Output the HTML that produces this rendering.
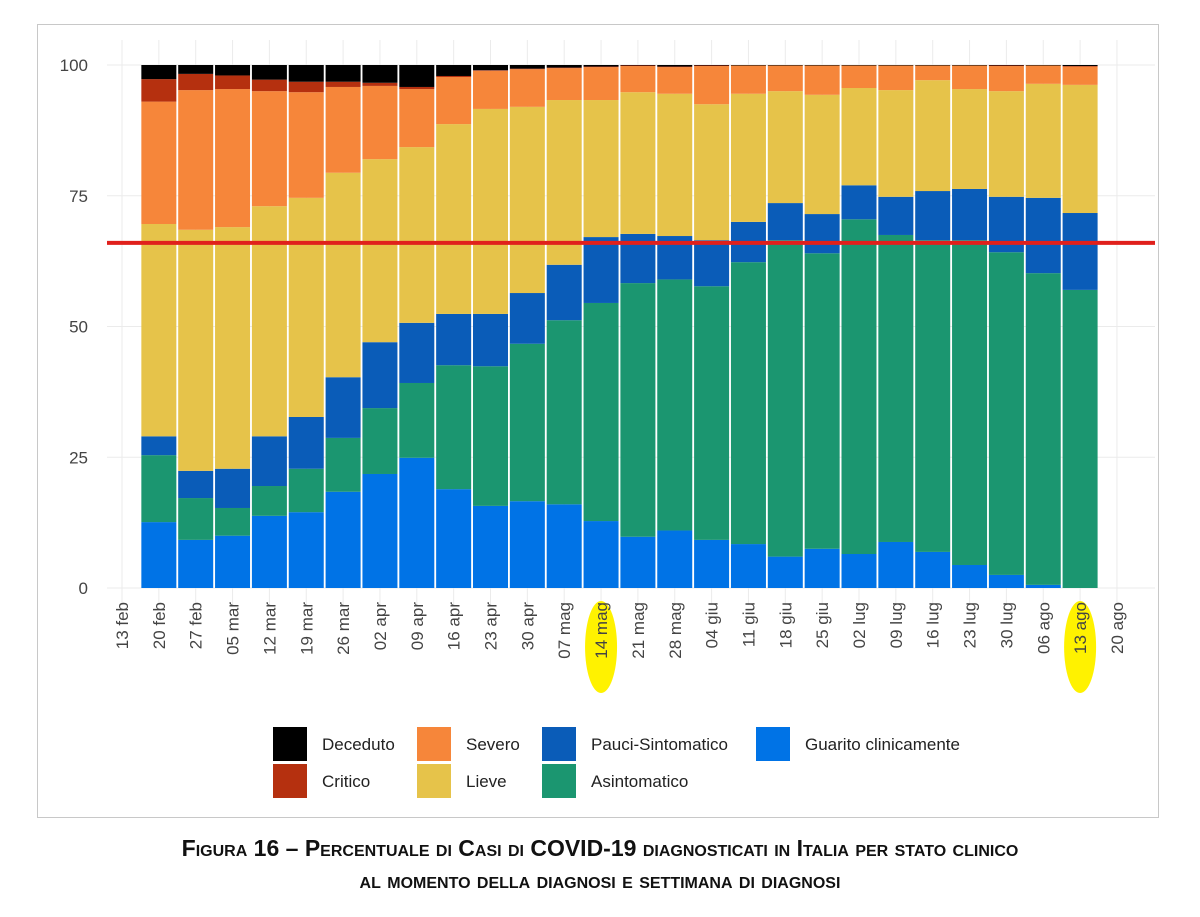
<!DOCTYPE html>
<html><head><meta charset="utf-8">
<style>
body{margin:0;background:#fff;width:1200px;height:917px;overflow:hidden;font-family:"Liberation Sans",sans-serif}
#frame{position:absolute;left:37px;top:24px;width:1122px;height:794px;border:1px solid #c8c8c8;box-sizing:border-box}
.cap{position:absolute;left:0;width:1200px;text-align:center;font-weight:bold;font-size:23px;font-variant:small-caps;color:#111}
</style></head><body>
<div id="frame"></div>
<svg id="chart" width="1200" height="917" style="position:absolute;left:0;top:0"></svg>
<div class="cap" style="top:835px">Figura 16 – Percentuale di Casi di COVID-19 diagnosticati in Italia per stato clinico</div>
<div class="cap" style="top:867px">al momento della diagnosi e settimana di diagnosi</div>
<script>
const tickLabels=["13 feb","20 feb","27 feb","05 mar","12 mar","19 mar","26 mar","02 apr","09 apr","16 apr","23 apr","30 apr","07 mag","14 mag","21 mag","28 mag","04 giu","11 giu","18 giu","25 giu","02 lug","09 lug","16 lug","23 lug","30 lug","06 ago","13 ago","20 ago"];
const categories=tickLabels.slice(1,27);
const yTicks=[0,25,50,75,100];
// cumulative stacked tops (percent)
const guaritoTop=[12.6,9.2,10,13.8,14.5,18.4,21.8,24.9,18.9,15.7,16.6,16,12.8,9.8,11,9.2,8.4,6,7.5,6.5,8.8,6.9,4.4,2.5,0.6,0];
const asintoTop=[25.4,17.2,15.3,19.5,22.8,28.7,34.4,39.2,42.6,42.4,46.7,51.2,54.5,58.3,59,57.7,62.3,66.5,64,70.5,67.5,66.5,66.5,64.2,60.2,57];
const pauciTop=[29,22.4,22.8,29,32.7,40.3,47,50.7,52.4,52.4,56.4,61.8,67.1,67.7,67.3,66.5,70,73.6,71.5,77,74.8,75.9,76.3,74.8,74.6,71.7];
const lieveTop=[69.6,68.5,69,73,74.6,79.4,82,84.3,88.7,91.6,92,93.3,93.3,94.8,94.5,92.5,94.5,95,94.3,95.6,95.2,97.1,95.4,95,96.4,96.2];
const severoTop=[93,95.2,95.4,95,94.8,95.8,96,95.4,97.7,98.9,99.2,99.4,99.6,99.8,99.6,99.8,99.9,99.9,99.9,99.9,99.9,99.9,99.9,99.8,99.9,99.7];
const criticoTop=[97.3,98.3,98,97.2,96.8,96.8,96.6,95.8,97.9,99,99.3,99.5,99.7,99.9,99.7,99.9,99.9,99.9,99.9,99.9,99.9,99.9,99.9,99.9,99.9,99.8];
const decedutoTop=categories.map(()=>100);
const series=[["guarito",guaritoTop,"#0073e6"],["asintomatico",asintoTop,"#1b9670"],["pauci",pauciTop,"#0a5cb8"],["lieve",lieveTop,"#e6c34a"],["severo",severoTop,"#f6863a"],["critico",criticoTop,"#b5300f"],["deceduto",decedutoTop,"#000000"]];
const refValue=66;

const NS="http://www.w3.org/2000/svg",svg=document.getElementById('chart');
const y=v=>588-v*5.23, x=i=>122+i*36.85;
function mk(t,a,p){const e=document.createElementNS(NS,t);for(const k in a)e.setAttribute(k,a[k]);(p||svg).appendChild(e);return e;}
yTicks.forEach(v=>{
 const g=mk('line',{x1:107,x2:1155,y1:y(v),y2:y(v),stroke:'#ebebeb','stroke-width':1});
 
 const t=mk('text',{x:88,y:y(v)+6,'text-anchor':'end','font-size':17,fill:'#444'});t.textContent=v;
 
});
tickLabels.forEach((l,i)=>{
 const g=mk('line',{x1:x(i),x2:x(i),y1:40,y2:605,stroke:'#ebebeb','stroke-width':1});
 
 if(l==="14 mag"||l==="13 ago"){const h=mk('ellipse',{cx:x(i),cy:647,rx:16,ry:46,fill:'#fff200'});
  }
 const t=mk('text',{x:0,y:0,transform:`translate(${x(i)+6},${602}) rotate(-90)`,'text-anchor':'end','font-size':17,fill:'#444'});t.textContent=l;
 
});
categories.forEach((c,i)=>{
 let prev=0;
 series.forEach(([n,arr,col])=>{
  const top=arr[i];
  const r=mk('rect',{x:x(i+1)-17.5,width:35,y:y(top),height:Math.max(0,y(prev)-y(top)),fill:col});
  
  
  prev=top;
 });
});
const rl=mk('line',{x1:107,x2:1155,y1:y(refValue),y2:y(refValue),stroke:'#e0201c','stroke-width':4});

const legend=[["Deceduto","#000",273,727],["Severo","#f6863a",417,727],["Pauci-Sintomatico","#0a5cb8",542,727],["Guarito clinicamente","#0073e6",756,727],["Critico","#b5300f",273,764],["Lieve","#e6c34a",417,764],["Asintomatico","#1b9670",542,764]];
legend.forEach(([l,c,lx,ly])=>{
 const r=mk('rect',{x:lx,y:ly,width:34,height:34,fill:c});
 
 const t=mk('text',{x:lx+49,y:ly+23,'font-size':17,fill:'#222'});t.textContent=l;
 
});
</script>
</body></html>
